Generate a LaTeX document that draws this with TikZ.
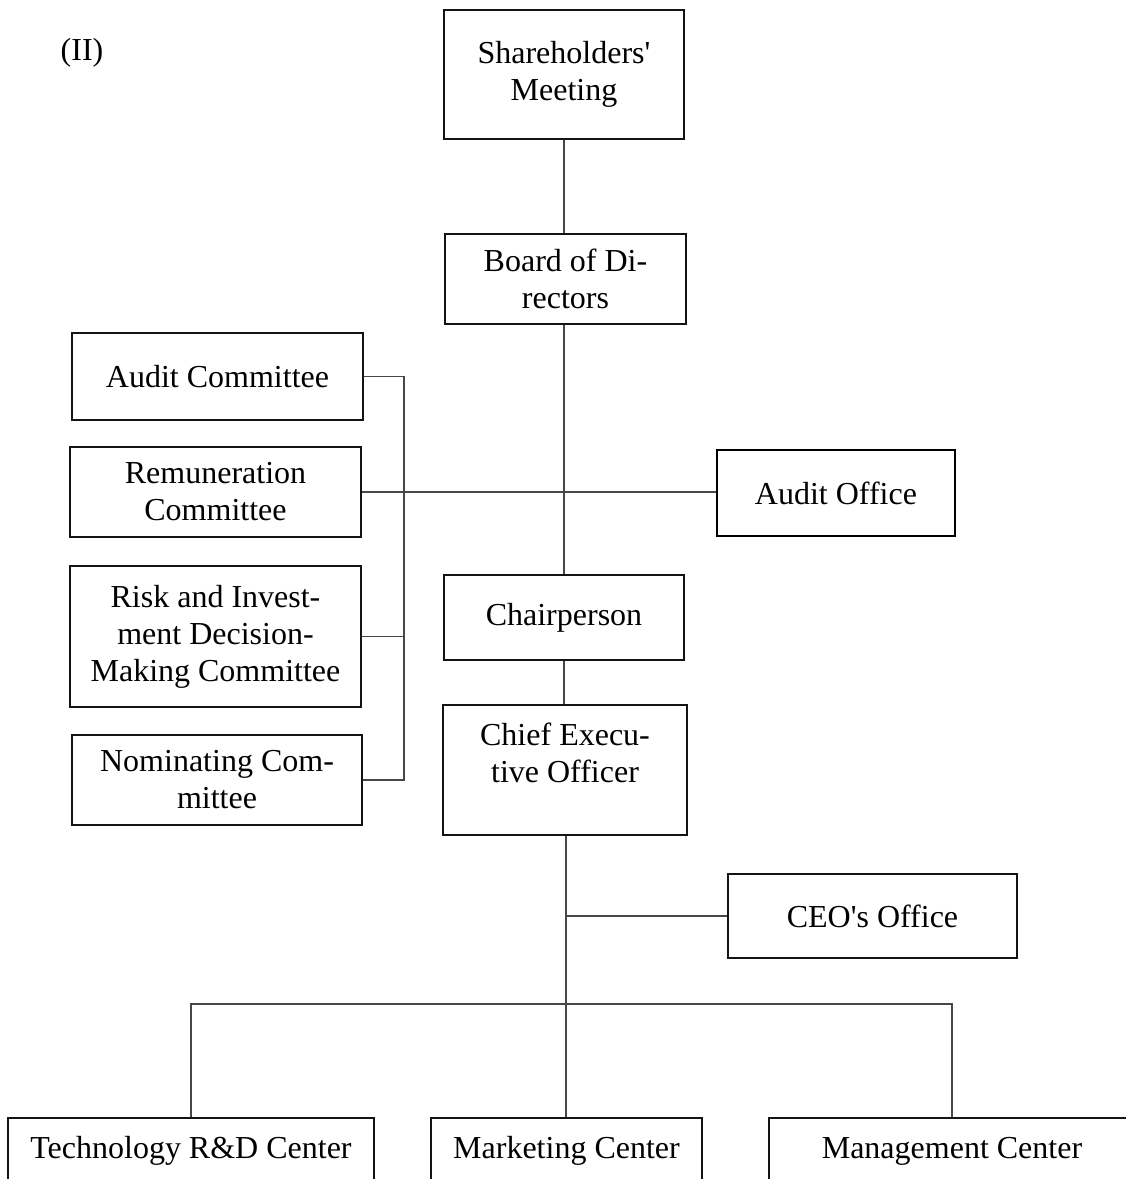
\documentclass[tikz,border=0pt]{standalone}
\usepackage{fontspec}
\setmainfont{Liberation Serif}[Ligatures=TeXOff]
\begin{document}
\begin{tikzpicture}[x=1pt,y=-1pt,
  txtfont/.style={font=\fontsize{32}{37}\selectfont},
  box/.style={draw=black!92, line width=1.6pt, inner sep=0pt, align=center, txtfont},
  officebox/.style={box, line width=2.4pt, draw=black},
  lbl/.style={inner sep=0pt, align=center, txtfont},
  link/.style={draw=black!72, line width=1.3pt}]
\clip (0,0) rectangle (1126,1179);
\fill[white] (0,0) rectangle (1126,1179);

% section tag
\node[lbl, anchor=base] (tag) at (82,60) {(II)};

% governance chain
\node[box, minimum width=240, minimum height=129] (share) at (564,74.5) {Shareholders'\\Meeting};
\node[box, minimum width=241, minimum height=90] (board) at (565.5,279) {Board of Di-\\rectors};
\node[box, minimum width=240, minimum height=85] (chair) at (564,617.5) {Chairperson};
\node[box, minimum width=244, minimum height=130] (ceo) at (565,770) {};
\node[lbl] (ceotext) at (565,753) {Chief Execu-\\tive Officer};

% board committees
\node[box, minimum width=291, minimum height=87] (auditc) at (217.5,376.5) {Audit Committee};
\node[box, minimum width=291, minimum height=90] (remun) at (215.5,492) {Remuneration\\Committee};
\node[box, minimum width=291, minimum height=141] (risk) at (215.5,636.5) {Risk and Invest-\\ment Decision-\\Making Committee};
\node[box, minimum width=290, minimum height=90] (nomin) at (217,780) {Nominating Com-\\mittee};

% offices
\node[officebox, minimum width=238, minimum height=86] (auditoff) at (836,493) {Audit Office};
\node[box, minimum width=289, minimum height=84] (ceooff) at (872.5,916) {CEO's Office};

% business centers (boxes run past the lower edge)
\node[box, anchor=base, minimum width=366, text height=40pt, text depth=52pt] (tech) at (191,1158) {Technology R\&D Center};
\node[box, anchor=base, minimum width=271, text height=40pt, text depth=52pt] (market) at (566.5,1158) {Marketing Center};
\node[box, anchor=base, minimum width=366, text height=40pt, text depth=52pt] (mgmt) at (952,1158) {Management Center};

% connector guides
\coordinate (spine) at (564,0);
\coordinate (bus) at (404,0);
\coordinate (trunk) at (566,0);
\coordinate (fork) at (0,1004);

% connectors
\draw[link] (spine |- share.south) -- (spine |- board.north);
\draw[link] (spine |- board.south) -- (spine |- chair.north);
\draw[link] (spine |- chair.south) -- (spine |- ceo.north);
\draw[link] (remun.east) -- (remun.east -| auditoff.west);
\draw[link] (auditc.east) -| (bus |- nomin.east) -- (nomin.east);
\draw[link] (risk.east) -- (bus |- risk.east);
\draw[link] (trunk |- ceo.south) -- (trunk |- market.north);
\draw[link] (trunk |- ceooff.west) -- (ceooff.west);
\draw[link] (tech.north) -- (tech.north |- fork) -- (mgmt.north |- fork) -- (mgmt.north);
\end{tikzpicture}
\end{document}
